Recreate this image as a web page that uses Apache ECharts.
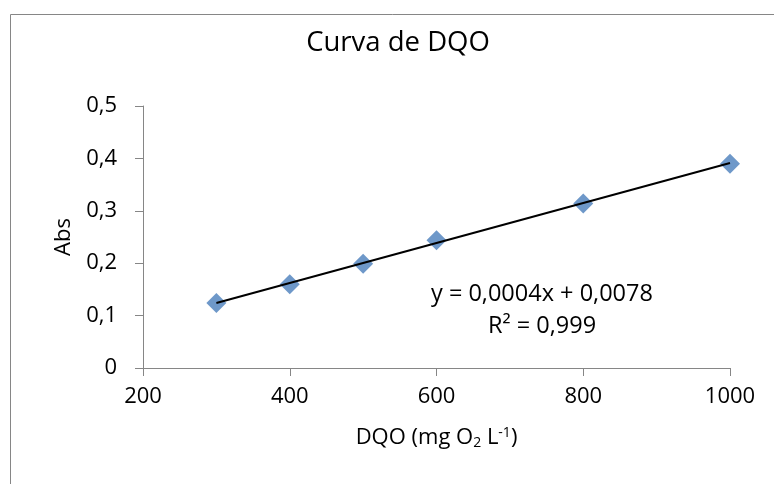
<!DOCTYPE html>
<html>
<head>
<meta charset="utf-8">
<script src="https://cdn.jsdelivr.net/npm/echarts@6/dist/echarts.min.js"></script>
<style>
  html, body { margin: 0; padding: 0; background: #fff; }
  #chart { width: 774px; height: 484px; }
</style>
</head>
<body>
<div id="chart"></div>
<script>
// Calibration standards: DQO concentration (mg O2/L) and measured absorbance
const dqo = [300, 400, 500, 600, 800, 1000];
const abs = [0.124, 0.160, 0.199, 0.244, 0.314, 0.390];

const xTicks = [200, 400, 600, 800, 1000];
const yTicks = [0, 0.1, 0.2, 0.3, 0.4, 0.5];

const titleText = 'Curva de DQO';
const equationText = 'y = 0,0004x + 0,0078';
const r2Text = 'R² = 0,999';

// Least-squares fit for the linear trendline
function linearFit(xs, ys) {
  const n = xs.length;
  const mx = xs.reduce((a, b) => a + b, 0) / n;
  const my = ys.reduce((a, b) => a + b, 0) / n;
  let sxy = 0, sxx = 0;
  for (let i = 0; i < n; i++) {
    sxy += (xs[i] - mx) * (ys[i] - my);
    sxx += (xs[i] - mx) * (xs[i] - mx);
  }
  const slope = sxy / sxx;
  return { slope, intercept: my - slope * mx };
}
const fit = linearFit(dqo, abs);
const xMin = Math.min(...dqo), xMax = Math.max(...dqo);
const trend = [
  [xMin, fit.intercept + fit.slope * xMin],
  [xMax, fit.intercept + fit.slope * xMax]
];

const FONT = 'Open Sans';
const axisGray = '#868686';
const commaFmt = v => String(v).replace('.', ',');

const chart = echarts.init(document.getElementById('chart'), null, { renderer: 'canvas' });
chart.setOption({
  backgroundColor: '#fff',
  animation: false,
  title: {
    text: titleText,
    left: 393,
    top: 24,
    textAlign: 'center',
    textStyle: { fontFamily: FONT, fontSize: 27.5, fontWeight: 'normal', color: '#000' }
  },
  grid: { left: 143, right: 44, top: 106, bottom: 116, containLabel: false },
  xAxis: {
    type: 'value',
    min: xTicks[0],
    max: xTicks[xTicks.length - 1],
    interval: xTicks[1] - xTicks[0],
    splitLine: { show: false },
    axisLine: { lineStyle: { color: axisGray, width: 1 } },
    axisTick: { show: true, length: 8, lineStyle: { color: axisGray } },
    axisLabel: { fontFamily: FONT, fontSize: 22, color: '#000', margin: 18, formatter: v => String(v) },
    name: '{n|DQO (mg O}{s|2}{n| L}{p|-1}{n|)}',
    nameLocation: 'middle',
    nameGap: 58,
    nameTextStyle: {
      rich: {
        n: { fontFamily: FONT, fontSize: 22, color: '#000' },
        s: { fontFamily: FONT, fontSize: 14, color: '#000', verticalAlign: 'bottom', padding: [10, 0, 0, 0] },
        p: { fontFamily: FONT, fontSize: 14, color: '#000', verticalAlign: 'top', padding: [0, 0, 10, 0] }
      }
    }
  },
  yAxis: {
    type: 'value',
    min: yTicks[0],
    max: yTicks[yTicks.length - 1],
    interval: 0.1,
    splitLine: { show: false },
    axisLine: { show: true, lineStyle: { color: axisGray, width: 1 } },
    axisTick: { show: true, length: 8, lineStyle: { color: axisGray } },
    axisLabel: { fontFamily: FONT, fontSize: 22, color: '#000', margin: 26, formatter: commaFmt },
    name: 'Abs',
    nameLocation: 'middle',
    nameGap: 68,
    nameTextStyle: { fontFamily: FONT, fontSize: 22, color: '#000' }
  },
  series: [
    {
      type: 'line',
      data: trend,
      symbol: 'none',
      lineStyle: { color: '#000', width: 2 },
      z: 3
    },
    {
      type: 'scatter',
      data: dqo.map((x, i) => [x, abs[i]]),
      symbol: 'diamond',
      symbolSize: 20,
      itemStyle: { color: '#4a7ebb' },
      z: 2
    }
  ],
  graphic: [
    {
      type: 'rect',
      shape: { x: 10.5, y: 14.5, width: 800, height: 500 },
      style: { fill: 'none', stroke: axisGray, lineWidth: 1 },
      silent: true,
      z: -1
    },
    {
      type: 'text',
      left: 431,
      top: 282,
      style: { text: equationText, font: '23.5px "Open Sans"', fill: '#000' }
    },
    {
      type: 'text',
      left: 488,
      top: 314,
      style: { text: r2Text, font: '23.5px "Open Sans"', fill: '#000' }
    }
  ]
});
</script>
</body>
</html>
